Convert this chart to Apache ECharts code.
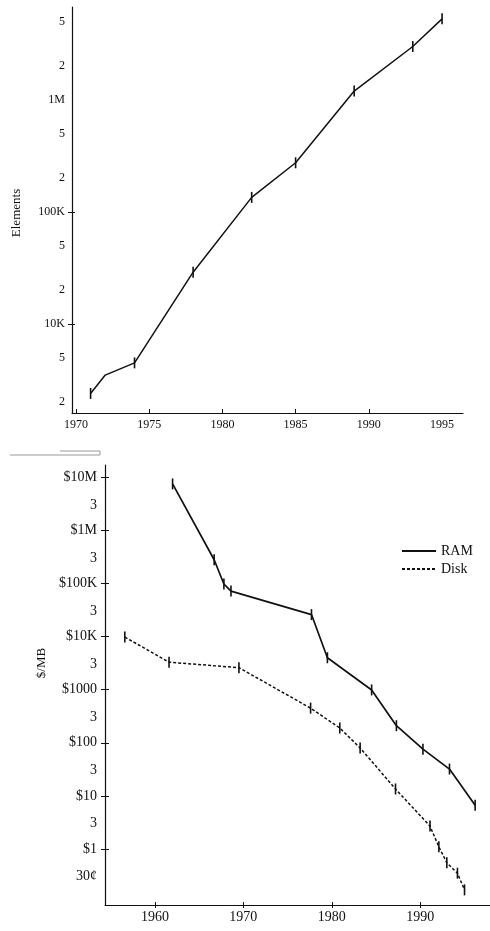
<!DOCTYPE html>
<html><head><meta charset="utf-8">
<script src="https://cdn.jsdelivr.net/npm/echarts@6/dist/echarts.min.js"></script>
<style>html,body{margin:0;padding:0;background:#fff}#c{width:490px;height:931px}</style>
</head><body><div id="c"></div>
<script>
// ---- Top chart: elements per chip ----
const topYears    = [1971, 1972, 1974, 1978, 1982, 1985, 1989, 1993, 1995];
const topElements = [2400, 3500, 4500, 29000, 135000, 275000, 1200000, 3000000, 5300000];
const topNoTickYears = [1972];
const topXLabels = [1970, 1975, 1980, 1985, 1990, 1995];
const topXTicks  = [1970, 1975, 1980, 1985, 1990];
const topYTickValues = [2000, 5000, 10000, 20000, 50000, 100000, 200000, 500000, 1000000, 2000000, 5000000];
const topYTickLabels = ['2', '5', '10K', '2', '5', '100K', '2', '5', '1M', '2', '5'];
const topYTickMarks  = [10000, 100000];

// ---- Bottom chart: cost per MB ----
const ramYears  = [1962, 1966.7, 1967.8, 1968.6, 1977.7, 1979.5, 1984.5, 1987.3, 1990.3, 1993.3, 1996.2];
const ramCost   = [7500000, 280000, 98000, 72000, 26000, 4000, 990, 210, 76, 32, 6.7];
const diskYears = [1956.6, 1961.6, 1969.5, 1977.6, 1980.9, 1983.2, 1987.2, 1991.1, 1992.1, 1993.0, 1994.2, 1995.0];
const diskCost  = [9800, 3300, 2600, 450, 190, 80, 13.5, 2.7, 1.1, 0.55, 0.35, 0.17];
const botXLabels = [1960, 1970, 1980, 1990];
const botYTickValues = [0.3, 1, 3, 10, 30, 100, 300, 1000, 3000, 10000, 30000, 100000, 300000, 1000000, 3000000, 10000000];
const botYTickLabels = ['30¢', '$1', '3', '$10', '3', '$100', '3', '$1000', '3', '$10K', '3', '$100K', '3', '$1M', '3', '$10M'];
const botYTickMarks  = [1, 10, 100, 1000, 10000, 100000, 1000000, 10000000];

const FONT = 'Liberation Serif';
const INK = '#111';

function makeFmt(vals, labels) {
  return function (v) {
    for (let i = 0; i < vals.length; i++) {
      if (Math.abs(Math.log10(vals[i]) - Math.log10(v)) < 0.005) return labels[i];
    }
    return '';
  };
}

const topData = topYears.map((y, i) => {
  const d = { value: [y, topElements[i]] };
  if (topNoTickYears.indexOf(y) >= 0) d.symbol = 'none';
  return d;
});
const ramData = ramYears.map((y, i) => [y, ramCost[i]]);
const diskData = diskYears.map((y, i) => [y, diskCost[i]]);

const chart = echarts.init(document.getElementById('c'), null, { renderer: 'canvas' });
const lab = (size) => ({ fontFamily: FONT, fontSize: size, color: INK });

chart.setOption({
  animation: false,
  backgroundColor: '#fff',
  grid: [
    { left: 72, right: 27, top: 7, bottom: 518 },
    { left: 105, right: 0, top: 465, bottom: 26 }
  ],
  xAxis: [
    {
      type: 'value', gridIndex: 0, min: 1969.73, max: 1996.43,
      axisLine: { onZero: false, lineStyle: { color: INK, width: 1.2 } },
      axisTick: { show: true, inside: true, length: 4, customValues: topXTicks, lineStyle: { color: INK } },
      axisLabel: Object.assign({ customValues: topXLabels, margin: 6, formatter: v => String(Math.round(v)) }, lab(12)),
      splitLine: { show: false }
    },
    {
      type: 'value', gridIndex: 1, min: 1954.36, max: 1997.88,
      axisLine: { onZero: false, lineStyle: { color: INK, width: 1.2 } },
      axisTick: { show: true, inside: false, length: 3, customValues: botXLabels, lineStyle: { color: INK } },
      axisLabel: Object.assign({ customValues: botXLabels, margin: 5, formatter: v => String(Math.round(v)) }, lab(14)),
      splitLine: { show: false }
    },
    {
      type: 'value', gridIndex: 1, min: 1954.36, max: 1997.88, position: 'bottom',
      axisLine: { show: false },
      axisTick: { show: true, inside: true, length: 3, customValues: botXLabels, lineStyle: { color: INK } },
      axisLabel: { show: false },
      splitLine: { show: false }
    }
  ],
  yAxis: [
    {
      type: 'log', gridIndex: 0, min: 1605, max: 6760000, position: 'left',
      axisLine: { show: true, onZero: false, lineStyle: { color: INK, width: 1.2 } },
      axisTick: { show: true, length: 4, customValues: topYTickMarks, lineStyle: { color: INK } },
      axisLabel: Object.assign({ customValues: topYTickValues, margin: 7, formatter: makeFmt(topYTickValues, topYTickLabels) }, lab(12)),
      splitLine: { show: false }, minorTick: { show: false },
      name: 'Elements', nameLocation: 'middle', nameGap: 49, nameRotate: 90,
      nameTextStyle: { fontFamily: FONT, fontSize: 13, color: INK, padding: [0, 6, 0, 0] }
    },
    {
      type: 'log', gridIndex: 1, min: 0.0882, max: 17060000, position: 'left',
      axisLine: { show: true, onZero: false, lineStyle: { color: INK, width: 1.2 } },
      axisTick: { show: true, length: 4, customValues: botYTickMarks, lineStyle: { color: INK } },
      axisLabel: Object.assign({ customValues: botYTickValues, margin: 8, formatter: makeFmt(botYTickValues, botYTickLabels) }, lab(14)),
      splitLine: { show: false }, minorTick: { show: false },
      name: '$/MB', nameLocation: 'middle', nameGap: 53, nameRotate: 90,
      nameTextStyle: { fontFamily: FONT, fontSize: 13, color: INK, padding: [0, 0, 0, 44] }
    },
    {
      type: 'log', gridIndex: 0, min: 1605, max: 6760000, position: 'left',
      axisLine: { show: false },
      axisTick: { show: true, inside: true, length: 3, customValues: topYTickMarks, lineStyle: { color: INK } },
      axisLabel: { show: false }, splitLine: { show: false }
    },
    {
      type: 'log', gridIndex: 1, min: 0.0882, max: 17060000, position: 'left',
      axisLine: { show: false },
      axisTick: { show: true, inside: true, length: 4, customValues: botYTickMarks, lineStyle: { color: INK } },
      axisLabel: { show: false }, splitLine: { show: false }
    }
  ],
  legend: {
    data: ['RAM', 'Disk'], orient: 'vertical', left: 396, top: 539,
    itemWidth: 34, itemHeight: 2, itemGap: 4,
    itemStyle: { opacity: 0 },
    textStyle: { fontFamily: FONT, fontSize: 14, color: INK },
    selectedMode: false
  },
  graphic: [
    { type: 'polyline', shape: { points: [[10, 455], [100, 455], [100, 451], [60, 451]] },
      style: { stroke: '#999', lineWidth: 1, fill: null }, silent: true }
  ],
  series: [
    {
      type: 'line', xAxisIndex: 0, yAxisIndex: 0, data: topData,
      symbol: 'rect', symbolSize: [1.6, 11], showAllSymbol: true,
      lineStyle: { color: INK, width: 1.5 }, itemStyle: { color: INK }, silent: true
    },
    {
      name: 'RAM', type: 'line', xAxisIndex: 1, yAxisIndex: 1, data: ramData,
      symbol: 'rect', symbolSize: [1.6, 11], showAllSymbol: true,
      lineStyle: { color: INK, width: 1.7 }, itemStyle: { color: INK }, silent: true
    },
    {
      name: 'Disk', type: 'line', xAxisIndex: 1, yAxisIndex: 1, data: diskData,
      symbol: 'rect', symbolSize: [1.6, 11], showAllSymbol: true,
      lineStyle: { color: INK, width: 1.5, type: [3, 2] }, itemStyle: { color: INK }, silent: true
    }
  ]
});
</script>
</body></html>
